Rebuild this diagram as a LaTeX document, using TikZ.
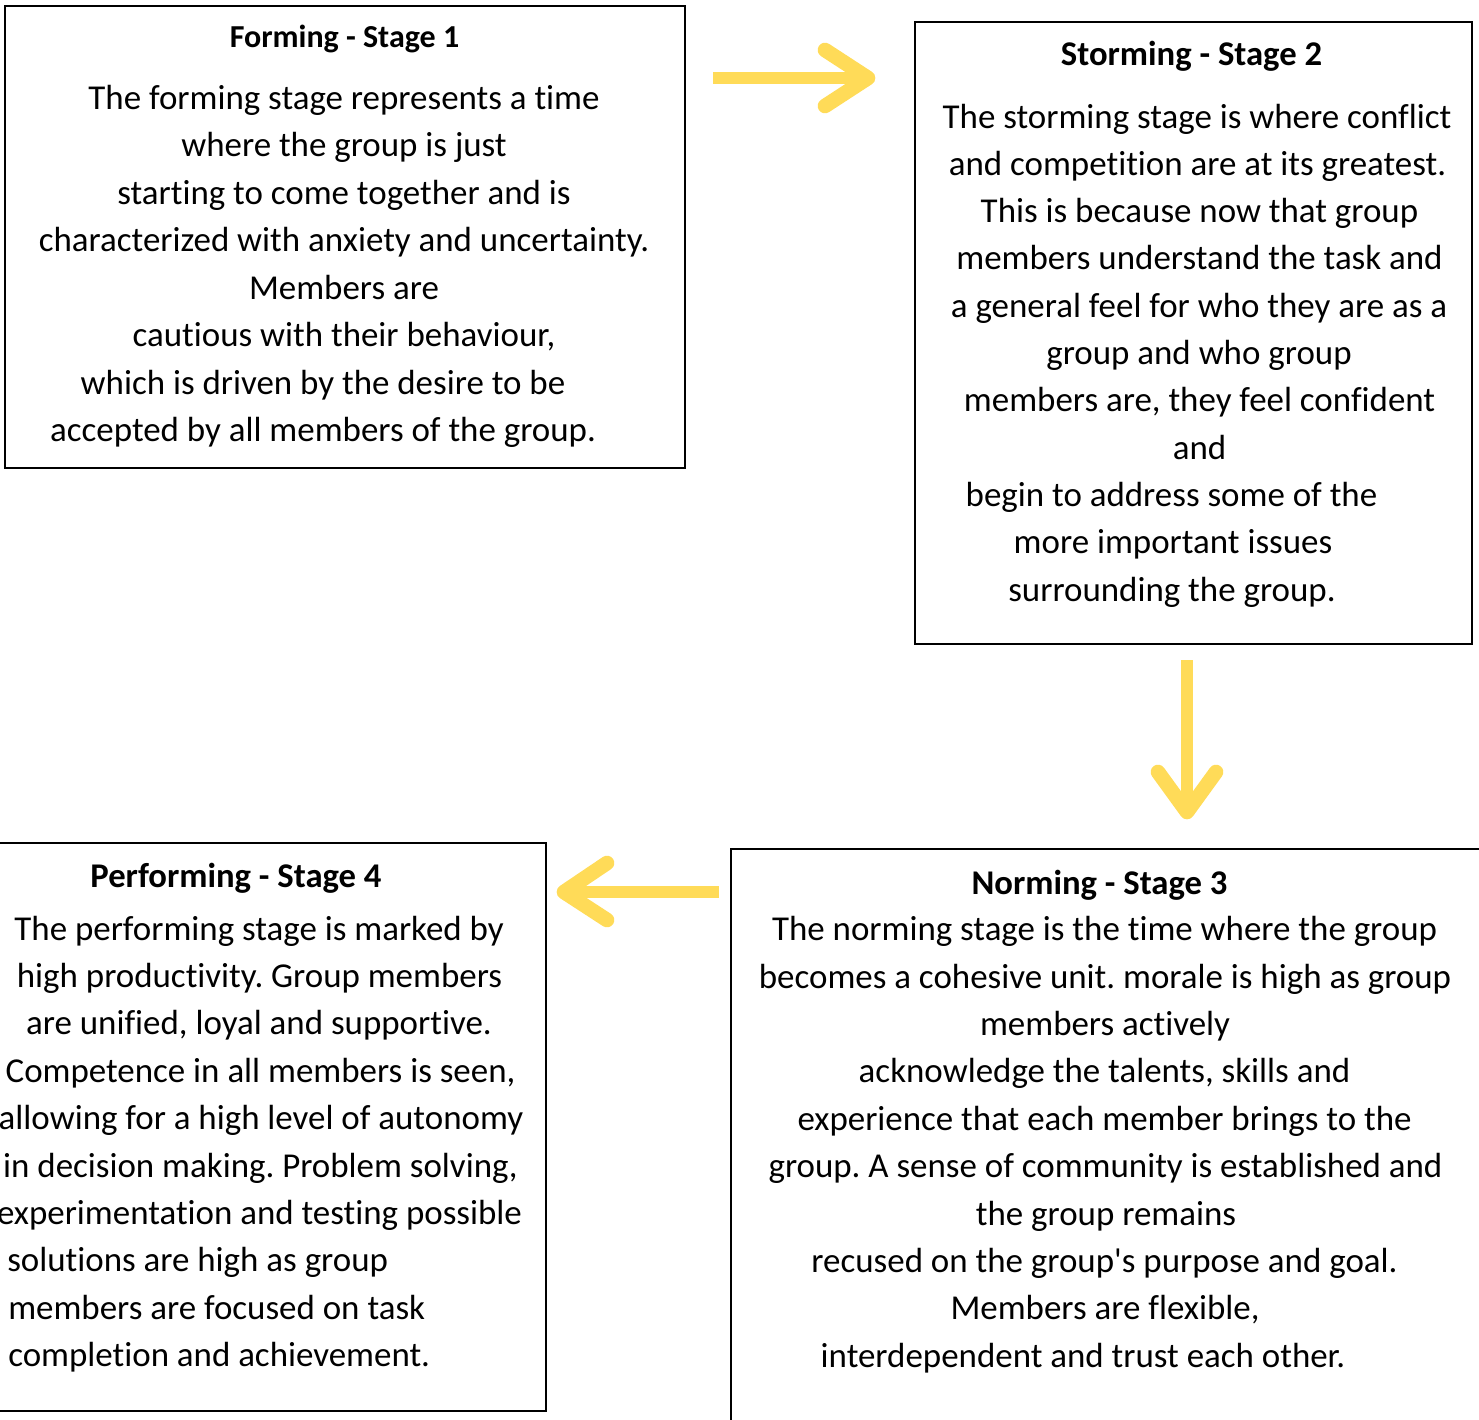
\documentclass[tikz,border=0pt]{standalone}
\usepackage{fontspec}
\setmainfont{Carlito}[Ligatures=NoCommon]
\frenchspacing
\definecolor{arrowyellow}{HTML}{FFDB58}
\begin{document}
\begin{tikzpicture}[x=0.75pt,y=-0.75pt,
  stagebox/.style={draw=black,line width=1.4pt},
  body/.style={anchor=base,inner sep=0pt,font=\fontsize{26.2}{32}\selectfont},
  bodyl/.style={anchor=base west,inner sep=0pt,font=\fontsize{26.2}{32}\selectfont},
  ttl/.style={anchor=base,inner sep=0pt,font=\fontsize{26}{31}\selectfont\bfseries},
  ttlsmall/.style={anchor=base,inner sep=0pt,font=\fontsize{24}{29}\selectfont\bfseries},
  shaft/.style={draw=arrowyellow,line width=9.5pt,line cap=butt},
  barb/.style={draw=arrowyellow,line width=11pt,line cap=round,line join=round}]
\useasboundingbox (0,0) rectangle (1479,1420);
\clip (0,0) rectangle (1479,1420);
% boxes
\draw[stagebox] (5,6) rectangle (685,468);
\draw[stagebox] (915,22) rectangle (1472,644);
\draw[stagebox] (731,849) rectangle (1500,1450);
\draw[stagebox] (-20,843) rectangle (546,1411);
% Box 1
\node[ttlsmall] (t1) at (344.5,48) {Forming - Stage 1};
\node[body] (f1) at (344,109) {The forming stage represents a time};
\node[body] (f2) at (344,156.5) {where the group is just};
\node[body] (f3) at (344,204) {starting to come together and is};
\node[body] (f4) at (344,251.5) {characterized with anxiety and uncertainty.};
\node[body] (f5) at (344,299) {Members are};
\node[body] (f6) at (344,346.5) {cautious with their behaviour,};
\node[body] (f7) at (323,394) {which is driven by the desire to be};
\node[body] (f8) at (323,441.5) {accepted by all members of the group.};
% Box 2
\node[ttl] (t2) at (1191.5,66) {Storming - Stage 2};
\node[body] (s1) at (1197,128) {The storming stage is where conflict};
\node[body] (s2) at (1197.5,175.3) {and competition are at its greatest.};
\node[body] (s3) at (1199.5,222.6) {This is because now that group};
\node[body] (s4) at (1199.5,269.9) {members understand the task and};
\node[body] (s5) at (1199,317.2) {a general feel for who they are as a};
\node[body] (s6) at (1199,364.5) {group and who group};
\node[body] (s7) at (1199.5,411.8) {members are, they feel confident};
\node[body] (s8) at (1199.5,459.1) {and};
\node[body] (s9) at (1171.5,506.4) {begin to address some of the};
\node[body] (s10) at (1173,553.7) {more important issues};
\node[body] (s11) at (1172,601) {surrounding the group.};
% Box 3
\node[ttl] (t3) at (1099.5,894) {Norming - Stage 3};
\node[body] (n1) at (1104.5,940.5) {The norming stage is the time where the group};
\node[body] (n2) at (1105,988) {becomes a cohesive unit. morale is high as group};
\node[body] (n3) at (1105,1035.4) {members actively};
\node[body] (n4) at (1104.5,1082.8) {acknowledge the talents, skills and};
\node[body] (n5) at (1104.5,1130.2) {experience that each member brings to the};
\node[body] (n6) at (1105.5,1177.6) {group. A sense of community is established and};
\node[body] (n7) at (1106,1225) {the group remains};
\node[body] (n8) at (1104.5,1272.4) {recused on the group\textquotesingle s purpose and goal.};
\node[body] (n9) at (1105,1319.8) {Members are flexible,};
\node[body] (n10) at (1083,1367.2) {interdependent and trust each other.};
% Box 4
\node[ttl] (t4) at (236,887) {Performing - Stage 4};
\node[body] (p1) at (259,940) {The performing stage is marked by};
\node[body] (p2) at (259.5,987.4) {high productivity. Group members};
\node[body] (p3) at (259,1034.8) {are unified, loyal and supportive.};
\node[body] (p4) at (260.5,1082.2) {Competence in all members is seen,};
\node[body] (p5) at (261,1129.6) {allowing for a high level of autonomy};
\node[body] (p6) at (260.5,1177) {in decision making. Problem solving,};
\node[body] (p7) at (259.5,1224.4) {experimentation and testing possible};
\node[bodyl] (p8) at (7,1271.8) {solutions are high as group};
\node[bodyl] (p9) at (8,1319.2) {members are focused on task};
\node[bodyl] (p10) at (8,1366.6) {completion and achievement.};
% arrows
\coordinate (a1s) at (713,78); \coordinate (a1t) at (868,78);
\coordinate (a1u) at (825,50); \coordinate (a1d) at (825,106);
\draw[shaft] (a1s) -- (862,78);
\draw[barb] (a1u) -- (a1t) -- (a1d);
\coordinate (a2s) at (1187,660); \coordinate (a2t) at (1187,812);
\coordinate (a2l) at (1158,772); \coordinate (a2r) at (1216,772);
\draw[shaft] (a2s) -- (1187,806);
\draw[barb] (a2l) -- (a2t) -- (a2r);
\coordinate (a3s) at (719,892); \coordinate (a3t) at (564,892);
\coordinate (a3u) at (607,863); \coordinate (a3d) at (607,920);
\draw[shaft] (a3s) -- (570,892);
\draw[barb] (a3u) -- (a3t) -- (a3d);
\end{tikzpicture}
\end{document}
